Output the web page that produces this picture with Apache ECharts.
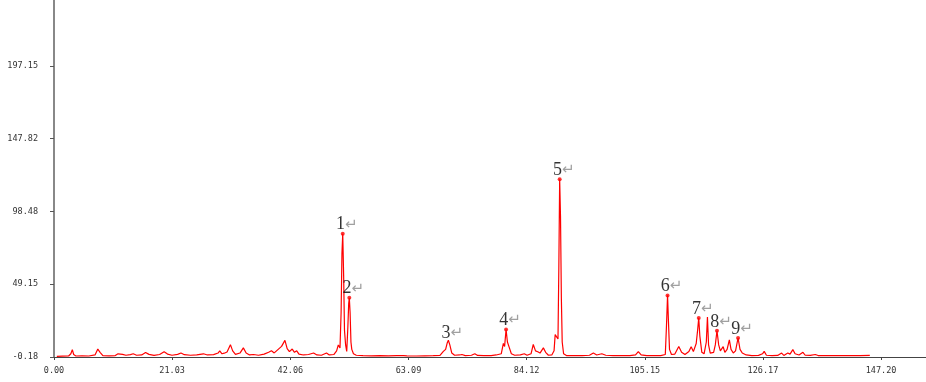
<!DOCTYPE html>
<html>
<head>
<meta charset="utf-8">
<title>chromatogram</title>
<script src="https://cdn.jsdelivr.net/npm/echarts@6/dist/echarts.min.js"></script>
<style>
  html, body { margin: 0; padding: 0; background: #fff; }
  #chart { width: 926px; height: 382px; }
</style>
</head>
<body>
<div id="chart"></div>
<script>
  // retention time (min) / response
  const retentionTime = [
    0.5, 1.5, 2.6, 3.0, 3.26, 3.5, 3.9, 5.0, 6.2, 7.3, 7.8, 8.2, 8.7, 9.8, 10.9, 11.4, 11.7, 12.2, 12.8,
    13.6, 14.1, 14.7, 15.6, 16.3, 16.9, 17.8, 18.8, 19.6, 20.2, 21.0, 22.0, 22.6, 23.2, 24.3, 25.4, 26.6,
    27.3, 28.4, 29.2, 29.5, 29.9, 30.3, 30.8, 31.4, 31.8, 32.3, 33.1, 33.7, 34.2, 34.8, 35.5, 36.4, 37.4,
    38.2, 38.5, 38.7, 39.2, 39.9, 40.2, 40.5, 40.8, 41.1, 41.5, 41.9, 42.4, 42.8, 43.2, 43.6, 44.4, 45.3,
    46.2, 46.8, 47.6, 48.5, 49.0, 49.8, 50.3, 50.6, 50.9, 51.1, 51.25, 51.39, 51.55, 51.7, 51.9, 52.1,
    52.3, 52.45, 52.56, 52.7, 52.85, 53.0, 53.3, 53.8, 55.0, 56.5, 58.0, 59.5, 61.0, 62.2, 62.5, 62.8,
    64.5, 66.0, 67.5, 68.7, 69.3, 69.7, 70.0, 70.19, 70.45, 70.8, 71.3, 72.2, 72.6, 73.2, 74.3, 74.9,
    75.4, 76.5, 77.8, 78.7, 79.6, 79.98, 80.2, 80.46, 80.7, 81.05, 81.4, 82.0, 83.0, 83.7, 84.2, 84.9,
    85.3, 85.7, 86.1, 86.5, 87.1, 87.5, 88.0, 88.6, 89.0, 89.2, 89.5, 89.7, 89.85, 90.0, 90.15, 90.3,
    90.45, 90.7, 91.2, 92.5, 94.0, 95.3, 96.0, 96.6, 97.5, 98.2, 99.5, 101.0, 102.5, 103.5, 104.0, 104.5,
    105.5, 106.8, 108.0, 108.8, 109.0, 109.2, 109.35, 109.55, 109.9, 110.5, 111.2, 111.7, 112.3, 113.0,
    113.4, 113.8, 114.3, 114.55, 114.75, 114.95, 115.3, 115.7, 116.1, 116.3, 116.5, 116.8, 117.4, 117.7,
    118.0, 118.3, 118.6, 119.1, 119.4, 119.8, 120.2, 120.5, 120.9, 121.3, 121.75, 122.1, 122.5, 123.2,
    124.2, 125.4, 126.1, 126.4, 126.8, 127.8, 128.8, 129.5, 129.9, 130.6, 131.0, 131.5, 131.9, 132.6,
    133.3, 133.7, 134.6, 135.5, 136.0, 137.5, 139.0, 140.5, 142.0, 143.5, 145.2
  ]
  const intensity = [
    0.3, 0.4, 0.5, 2.0, 4.8, 1.5, 0.5, 0.6, 0.5, 1.2, 5.2, 3.0, 0.8, 0.6, 0.8, 2.0, 2.9, 1.6, 1.0,
    1.4, 2.0, 1.0, 1.2, 2.9, 1.6, 0.9, 1.5, 3.4, 1.8, 1.0, 1.6, 2.5, 1.4, 1.0, 1.3, 2.0,
    1.2, 1.4, 2.5, 4.0, 2.0, 2.4, 3.2, 8.2, 4.0, 1.6, 2.5, 6.0, 2.5, 1.2, 1.5, 1.0, 1.8,
    3.0, 2.0, 4.0, 2.6, 5.0, 3.8, 7.0, 6.0, 11.1, 5.5, 3.5, 5.2, 3.0, 4.0, 1.8, 1.2, 1.5,
    2.5, 1.2, 1.0, 2.5, 1.2, 1.5, 4.0, 8.0, 6.0, 30.0, 70.0, 83.4, 55.0, 18.0, 8.0, 3.6,
    20.0, 36.0, 40.0, 30.0, 10.0, 5.0, 2.0, 1.0, 0.8, 0.6, 0.7, 0.6, 0.8, 0.7, 1.6, 0.6,
    0.5, 0.6, 0.7, 0.9, 3.6, 5.0, 9.5, 11.2, 8.0, 2.5, 1.0, 1.2, 1.5, 0.8, 1.0, 2.0,
    0.9, 0.7, 0.8, 1.2, 2.0, 9.0, 7.0, 18.5, 10.0, 6.0, 2.0, 1.0, 1.3, 2.0, 1.0, 2.0,
    8.3, 4.0, 3.4, 2.5, 6.0, 3.0, 1.0, 1.2, 4.0, 15.0, 16.0, 12.0, 60.0, 120.4, 95.0, 40.0,
    10.0, 2.0, 0.8, 0.7, 0.8, 1.0, 2.5, 1.2, 2.0, 1.0, 0.8, 0.7, 0.8, 1.2, 3.4, 1.2,
    0.8, 0.7, 0.8, 1.5, 20.0, 41.6, 25.0, 5.0, 1.5, 1.8, 7.0, 3.0, 1.5, 3.5,
    6.8, 3.5, 9.0, 18.0, 26.2, 14.0, 3.0, 2.0, 10.0, 26.9, 8.0, 2.5, 3.0, 8.0,
    17.6, 8.0, 4.0, 6.8, 3.0, 5.0, 11.5, 5.0, 2.5, 4.0, 12.7, 5.0, 2.5, 1.2,
    0.8, 0.9, 2.0, 3.6, 1.0, 0.8, 0.9, 2.5, 0.9, 2.5, 1.8, 4.8, 2.0, 1.2,
    3.0, 1.0, 0.9, 1.5, 0.8, 0.7, 0.8, 0.7, 0.8, 0.8, 0.9
  ]

  // numbered peaks (peak 3 has no dot in the original)
  const peakNames = ['1', '2', '3', '4', '5', '6', '7', '8', '9']
  const peakTimes = [51.39, 52.56, 70.19, 80.46, 90.0, 109.2, 114.75, 118.0, 121.75]

  const xTicks = [0.00, 21.03, 42.06, 63.09, 84.12, 105.15, 126.17, 147.20]
  const yTicks = [-0.18, 49.15, 98.48, 147.82, 197.15]

  const chart = echarts.init(document.getElementById('chart'))

  const trace = retentionTime.map((t, i) => [t, intensity[i]])
  const peaks = peakTimes.map((t, i) => {
    const idx = retentionTime.indexOf(t)
    return { value: [t, intensity[idx]], name: peakNames[i], symbolSize: peakNames[i] === '3' ? 0 : 4 }
  })

  const axisFont = { fontFamily: 'DejaVu Sans Mono', fontSize: 8.5, color: '#333' }

  chart.setOption({
    animation: false,
    grid: { left: 54, right: 0, top: 0, bottom: 25 },
    xAxis: {
      type: 'value',
      min: 0,
      max: 155.2,
      splitLine: { show: false },
      axisLine: { onZero: false, lineStyle: { color: '#444', width: 1 } },
      axisTick: { customValues: xTicks, length: 3, lineStyle: { color: '#444' } },
      axisLabel: Object.assign({ customValues: xTicks, margin: 9, formatter: v => v.toFixed(2) }, axisFont)
    },
    yAxis: {
      type: 'value',
      min: -0.18,
      max: 241.9,
      splitLine: { show: false },
      axisLine: { show: true, onZero: false, lineStyle: { color: '#888', width: 2 } },
      axisTick: { customValues: yTicks, length: 4, lineStyle: { color: '#555' } },
      axisLabel: Object.assign({ customValues: yTicks, margin: 16, formatter: v => v.toFixed(2) }, axisFont)
    },
    series: [{
      type: 'line',
      data: trace,
      symbol: 'none',
      lineStyle: { color: '#ff0000', width: 1.2 },
      z: 2
    }, {
      type: 'scatter',
      data: peaks,
      symbol: 'circle',
      itemStyle: { color: '#ff0000' },
      label: {
        show: true,
        position: 'top',
        distance: -2,
        offset: [4, 0],
        formatter: p => '{n|' + p.name + '}{a|\u21b5}',
        rich: {
          n: { fontFamily: 'Liberation Serif', fontSize: 18, color: '#000', lineHeight: 18 },
          a: { fontFamily: 'DejaVu Sans', fontSize: 15, color: '#888', lineHeight: 18 }
        }
      },
      z: 3
    }]
  })
</script>
</body>
</html>
